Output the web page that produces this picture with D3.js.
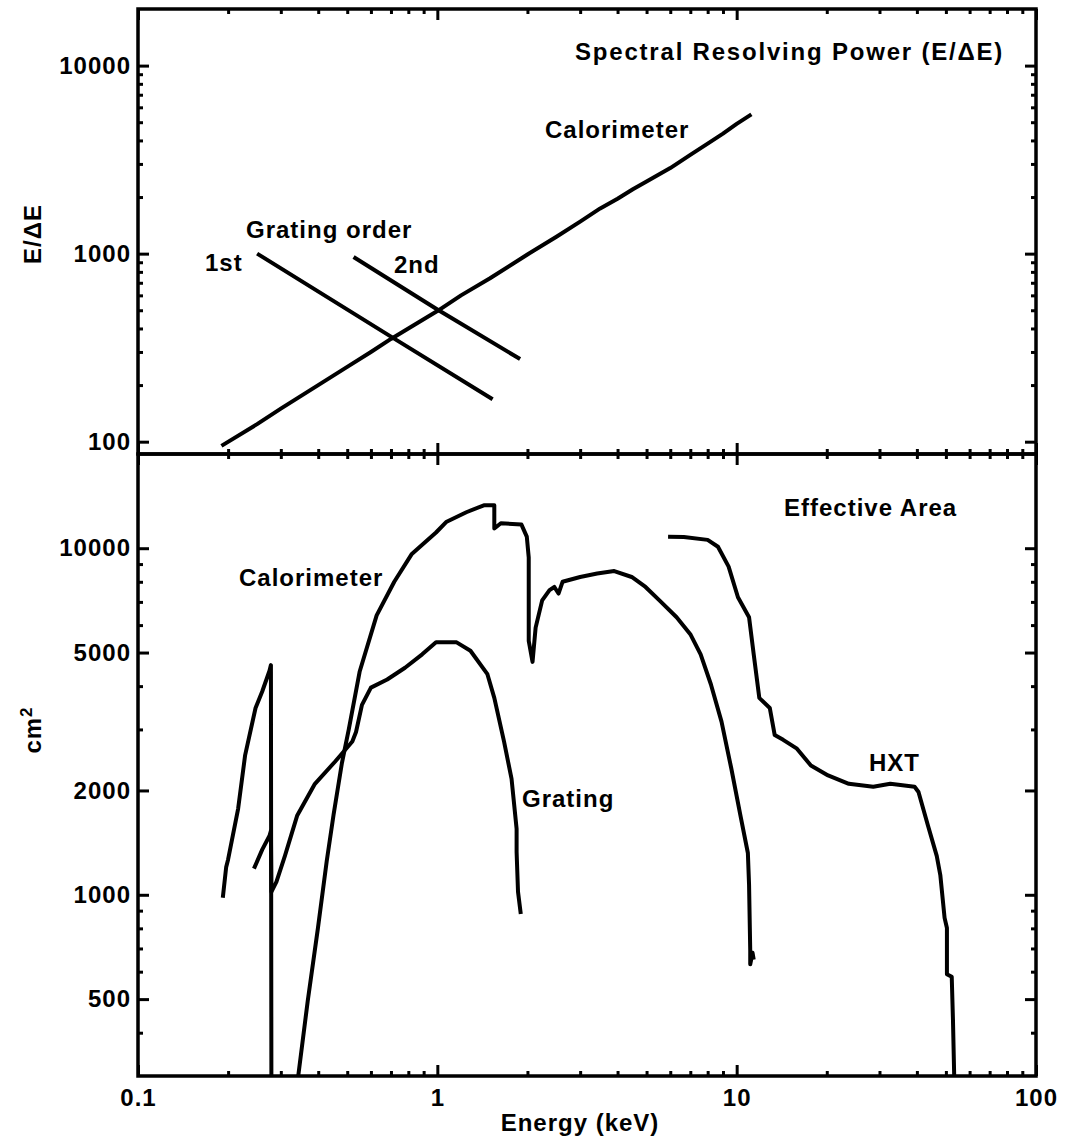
<!DOCTYPE html>
<html>
<head>
<meta charset="utf-8">
<style>
    body { margin: 0; background: #fff; }
    text { font-family: "Liberation Sans", Arial, sans-serif; font-weight: bold; fill: #000; font-size: 24px; letter-spacing: 1px; }
    .axis path { display: none; }
    .axis line { stroke: #000; stroke-width: 3; }
    .frame { fill: none; stroke: #000; stroke-width: 3.5; }
    .curve { fill: none; stroke: #000; stroke-width: 4; stroke-linejoin: round; }
</style>
</head>
<body>
<svg id="chart" width="1065" height="1144"></svg>
<script src="https://cdn.jsdelivr.net/npm/d3@7"></script>
<script>
// energy (keV) vs resolving power E/dE
let resCalorimeter = [[0.19, 95], [0.25, 124], [0.3, 150], [0.4, 200], [0.5, 250], [0.6, 300], [0.7, 352],
    [0.8, 400], [1.0, 495], [1.2, 600], [1.5, 740], [2.0, 990], [2.5, 1230], [3.0, 1480], [3.5, 1740],
    [4.0, 1960], [4.5, 2200], [5.0, 2420], [6.0, 2850], [7.0, 3350], [8.0, 3850], [9.0, 4350], [10.0, 4900], [11.2, 5500]]
let resGrating1 = [[0.25, 1000], [0.7, 362], [1.53, 168]]
let resGrating2 = [[0.525, 960], [1.0, 505], [1.89, 275]]

// energy (keV) vs effective area (cm2), bottom panel
let areaCalLow = [[0.192, 980], [0.197, 1200], [0.2, 1265], [0.216, 1770], [0.228, 2530], [0.247, 3460],
    [0.26, 3860], [0.275, 4430], [0.278, 4600], [0.279, 300]]
let areaCalorimeter = [[0.343, 300], [0.369, 494], [0.399, 800], [0.427, 1250], [0.45, 1700], [0.48, 2400],
    [0.506, 3000], [0.55, 4400], [0.627, 6400], [0.718, 8000], [0.82, 9600], [0.99, 11100], [1.07, 11900],
    [1.25, 12700], [1.43, 13300], [1.55, 13300], [1.55, 11400], [1.63, 11800], [1.91, 11700], [1.99, 10800],
    [2.02, 9400], [2.02, 5400], [2.08, 4700], [2.13, 5900], [2.24, 7070], [2.37, 7570], [2.46, 7730],
    [2.54, 7400], [2.62, 8000], [3.0, 8260], [3.42, 8450], [3.9, 8590], [4.46, 8260], [4.96, 7730],
    [5.52, 7070], [6.3, 6320], [7.0, 5650], [7.58, 4940], [8.2, 4050], [8.9, 3160], [9.6, 2310],
    [10.3, 1690], [10.9, 1320], [11.0, 1070], [11.1, 690], [11.1, 630], [11.3, 680], [11.4, 650]]
let areaGrating = [[0.244, 1190], [0.26, 1350], [0.275, 1480], [0.278, 1530], [0.279, 1020], [0.29, 1090],
    [0.31, 1300], [0.34, 1690], [0.39, 2090], [0.455, 2420], [0.52, 2770], [0.535, 2950], [0.56, 3530],
    [0.6, 3960], [0.68, 4180], [0.78, 4520], [0.89, 4940], [0.99, 5350], [1.16, 5350], [1.29, 5060],
    [1.47, 4330], [1.55, 3700], [1.67, 2770], [1.77, 2160], [1.84, 1550], [1.84, 1330], [1.86, 1020], [1.9, 880]]
let areaHXT = [[5.9, 10800], [6.66, 10780], [8.0, 10570], [8.66, 10100], [9.4, 8850], [10.1, 7220],
    [11.0, 6320], [11.4, 4940], [11.9, 3700], [12.9, 3460], [13.4, 2890], [14.3, 2800], [15.9, 2640],
    [17.7, 2360], [20.2, 2210], [23.7, 2090], [28.6, 2050], [32.6, 2090], [39.3, 2050], [40.5, 1980],
    [43.6, 1580], [46.6, 1295], [47.9, 1140], [49.5, 858], [50.4, 802], [50.4, 590], [52.3, 580],
    [52.8, 434], [53.3, 300]]

// ticks
let xMajor = [0.1, 1, 10, 100]
let xMinor = [0.2, 0.3, 0.4, 0.5, 0.6, 0.7, 0.8, 0.9, 2, 3, 4, 5, 6, 7, 8, 9, 20, 30, 40, 50, 60, 70, 80, 90]
let topMajor = [100, 1000, 10000]
let topMinor = [200, 300, 400, 500, 600, 700, 800, 900, 2000, 3000, 4000, 5000, 6000, 7000, 8000, 9000]
let botMajor = [500, 1000, 2000, 5000, 10000]
let botMinor = [400, 600, 700, 800, 900, 3000, 4000, 6000, 7000, 8000, 9000]

let svg = d3.select("#chart")
let left = 138, right = 1036
let topY0 = 9, midY = 454, botY1 = 1076

let x = d3.scaleLog().domain([0.1, 100]).range([left, right])
let yTop = d3.scaleLog().domain([86, 20000]).range([midY, topY0])
let yBot = d3.scaleLog().domain([300, 18700]).range([botY1, midY])

// clip each panel so vertical drops stop at the frame
svg.append("clipPath").attr("id", "clipTop").append("rect")
    .attr("x", left).attr("y", topY0).attr("width", right - left).attr("height", midY - topY0)
svg.append("clipPath").attr("id", "clipBot").append("rect")
    .attr("x", left).attr("y", midY).attr("width", right - left).attr("height", botY1 - midY)

let line = yScale => d3.line().x(d => x(d[0])).y(d => yScale(d[1]))

let gTop = svg.append("g").attr("clip-path", "url(#clipTop)")
;[resCalorimeter, resGrating1, resGrating2].forEach(s =>
    gTop.append("path").datum(s).attr("class", "curve").attr("d", line(yTop)))

let gBot = svg.append("g").attr("clip-path", "url(#clipBot)")
;[areaCalLow, areaCalorimeter, areaGrating, areaHXT].forEach(s =>
    gBot.append("path").datum(s).attr("class", "curve").attr("d", line(yBot)))

// axes: majors and minors drawn as separate d3 axes, all ticks inward
function addAxis(gen, tx, ty, values, size, labels, pad) {
    svg.append("g").attr("class", "axis")
        .attr("transform", `translate(${tx},${ty})`)
        .call(gen.tickValues(values).tickSize(size).tickPadding(pad || 0)
            .tickFormat(labels ? (d => String(d)) : ""))
        .selectAll("text").style("font-size", "24px").attr("fill", "#000")
}

// x axes: top edge, shared middle edge (both directions), bottom edge
addAxis(d3.axisTop(x), 0, topY0, xMajor, -11, false)
addAxis(d3.axisTop(x), 0, topY0, xMinor, -5, false)
addAxis(d3.axisBottom(x), 0, midY, xMajor, -11, false)
addAxis(d3.axisBottom(x), 0, midY, xMinor, -5, false)
addAxis(d3.axisTop(x), 0, midY, xMajor, -11, false)
addAxis(d3.axisTop(x), 0, midY, xMinor, -5, false)
addAxis(d3.axisBottom(x), 0, botY1, xMajor, -11, true, 13)
addAxis(d3.axisBottom(x), 0, botY1, xMinor, -5, false)

// y axes, top panel
addAxis(d3.axisLeft(yTop), left, 0, topMajor, -11, true, 7)
addAxis(d3.axisLeft(yTop), left, 0, topMinor, -5, false)
addAxis(d3.axisRight(yTop), right, 0, topMajor, -11, false)
addAxis(d3.axisRight(yTop), right, 0, topMinor, -5, false)

// y axes, bottom panel
addAxis(d3.axisLeft(yBot), left, 0, botMajor, -11, true, 7)
addAxis(d3.axisLeft(yBot), left, 0, botMinor, -5, false)
addAxis(d3.axisRight(yBot), right, 0, botMajor, -11, false)
addAxis(d3.axisRight(yBot), right, 0, botMinor, -5, false)

// frames
svg.append("rect").attr("class", "frame")
    .attr("x", left).attr("y", topY0).attr("width", right - left).attr("height", midY - topY0)
svg.append("rect").attr("class", "frame")
    .attr("x", left).attr("y", midY).attr("width", right - left).attr("height", botY1 - midY)

// annotations
function label(txt, px, py, anchor) {
    return svg.append("text").attr("x", px).attr("y", py)
        .attr("text-anchor", anchor || "start").text(txt)
}
label("Spectral Resolving Power (E/\u0394E)", 575, 60).style("letter-spacing", "1.8px")
label("Calorimeter", 545, 138)
label("Grating order", 246, 238)
label("1st", 205, 271)
label("2nd", 394, 273)
label("Effective Area", 784, 516)
label("Calorimeter", 239, 586)
label("Grating", 522, 807)
label("HXT", 869, 771)
label("Energy (keV)", 580, 1131, "middle")

svg.append("text").attr("transform", "translate(41,234) rotate(-90)")
    .attr("text-anchor", "middle").text("E/\u0394E")
let cm = svg.append("text").attr("transform", "translate(41,730) rotate(-90)")
    .attr("text-anchor", "middle")
cm.append("tspan").text("cm")
cm.append("tspan").attr("dy", -9).style("font-size", "17px").text("2")
</script>
</body>
</html>
